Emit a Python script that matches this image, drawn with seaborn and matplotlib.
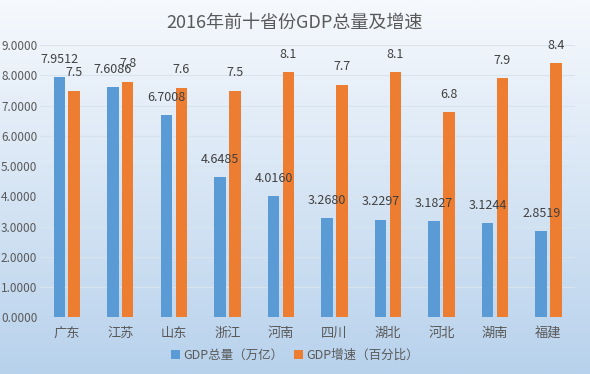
import matplotlib
matplotlib.use("Agg")
import matplotlib.pyplot as plt
import numpy as np
import pandas as pd
import seaborn as sns

sns.set_style("white")
plt.rcParams['font.family'] = ['Noto Sans CJK SC', 'DejaVu Sans']

# data
provinces = ["广东", "江苏", "山东", "浙江", "河南", "四川", "湖北", "河北", "湖南", "福建"]
gdp_total = [7.9512, 7.6086, 6.7008, 4.6485, 4.0160, 3.2680, 3.2297, 3.1827, 3.1244, 2.8519]
gdp_growth = [7.5, 7.8, 7.6, 7.5, 8.1, 7.7, 8.1, 6.8, 7.9, 8.4]
series_names = ["GDP总量（万亿）", "GDP增速（百分比）"]
value_labels = [["%.4f" % v for v in gdp_total], ["%g" % v for v in gdp_growth]]

df = pd.concat([
    pd.DataFrame({"省份": provinces, "值": gdp_total, "指标": series_names[0]}),
    pd.DataFrame({"省份": provinces, "值": gdp_growth, "指标": series_names[1]}),
])

text_color = "#595959"
fig = plt.figure(figsize=(5.9, 3.74), dpi=100)

# light gradient background like the office chart
bg = fig.add_axes([0, 0, 1, 1], zorder=-1)
top = np.array([246, 249, 253]) / 255
bottom = np.array([184, 210, 236]) / 255
t = np.linspace(0, 1, 256)[:, None]
grad = top[None, :] * (1 - t) + bottom[None, :] * t
bg.imshow(grad[:, None, :], aspect="auto", extent=[0, 1, 0, 1])
bg.axis("off")

ax = fig.add_axes([0.068, 0.152, 0.907, 0.727])
ax.patch.set_alpha(0)

sns.barplot(data=df, x="省份", y="值", hue="指标", palette=["#5b9bd5", "#ed7d31"],
            width=0.55, gap=0.22, saturation=1, linewidth=0, ax=ax, zorder=2)

# data labels above each bar
for container, labels in zip(ax.containers, value_labels):
    ax.bar_label(container, labels=labels, padding=8, fontsize=9, color="#404040")

ax.set_ylim(0, 9)
ax.set_yticks(np.arange(0, 10, 1))
ax.set_yticklabels(["%.4f" % v for v in range(10)])
ax.set_xlabel("")
ax.set_ylabel("")
ax.grid(axis="y", color="#d9e3ee", linewidth=0.8, zorder=0)
ax.set_axisbelow(True)
sns.despine(ax=ax, left=True, bottom=True)
ax.tick_params(axis="both", length=0, labelsize=8.5, labelcolor=text_color)
ax.tick_params(axis="x", pad=7, labelsize=9.5)
ax.tick_params(axis="y", pad=2)

fig.text(0.5, 0.94, "2016年前十省份GDP总量及增速", ha="center", va="center",
         fontsize=13, color=text_color)

sns.move_legend(ax, "center", bbox_to_anchor=(0.5, 0.05), bbox_transform=fig.transFigure,
                ncol=2, frameon=False, title=None, fontsize=9, handlelength=0.7,
                handleheight=0.7, handletextpad=0.3, columnspacing=0.8,
                labelcolor=text_color)

fig.savefig("out.png", dpi=100)
